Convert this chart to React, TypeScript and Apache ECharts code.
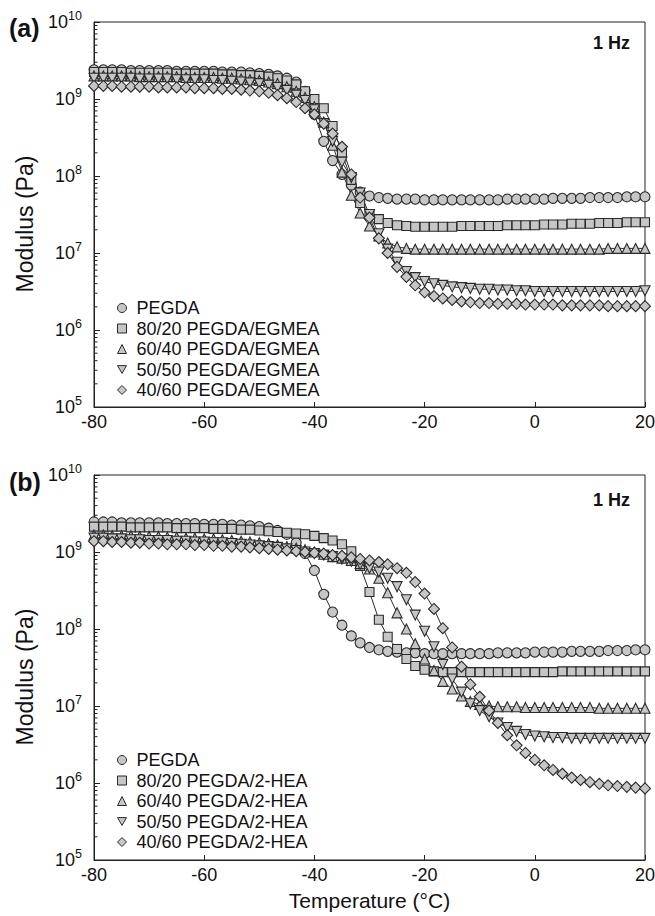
import React, { useEffect, useRef } from "react";
import * as echarts from "echarts";

// Temperatures (°C) of the measured points
const temps = [
  -80, -78.3, -76.7, -75, -73.3, -71.7, -70, -68.3, -66.7, -65, -63.3, -61.7, -60,
  -58.3, -56.7, -55, -53.3, -51.7, -50, -48.3, -46.7, -45, -43.3, -41.7, -40,
  -38.3, -36.7, -35, -33.3, -31.7, -30, -28.3, -26.7, -25, -23.3, -21.7, -20,
  -18.3, -16.7, -15, -13.3, -11.7, -10, -8.3, -6.7, -5, -3.3, -1.7, 0,
  1.7, 3.3, 5, 6.7, 8.3, 10, 11.7, 13.3, 15, 16.7, 18.3, 20,
];

// Panel (a): log10 of modulus (Pa)
const pegdaA = [
  9.38, 9.38, 9.38, 9.38, 9.37, 9.37, 9.37, 9.37, 9.37, 9.36, 9.36, 9.36, 9.36,
  9.36, 9.35, 9.35, 9.35, 9.34, 9.33, 9.32, 9.3, 9.27, 9.22, 9.1, 8.8,
  8.45, 8.2, 8.02, 7.88, 7.79, 7.74, 7.72, 7.71, 7.7, 7.7, 7.7, 7.69,
  7.69, 7.69, 7.69, 7.69, 7.69, 7.69, 7.69, 7.69, 7.7, 7.7, 7.7, 7.7,
  7.7, 7.71, 7.71, 7.71, 7.71, 7.72, 7.72, 7.72, 7.72, 7.73, 7.73, 7.73,
];
const egmea80A = [
  9.35, 9.35, 9.35, 9.35, 9.34, 9.34, 9.34, 9.34, 9.34, 9.33, 9.33, 9.33, 9.33,
  9.33, 9.32, 9.32, 9.31, 9.31, 9.3, 9.29, 9.27, 9.24, 9.19, 9.1, 9.0,
  8.88, 8.65, 8.3, 7.95, 7.65, 7.5, 7.44, 7.39, 7.36, 7.35, 7.34, 7.34,
  7.34, 7.34, 7.34, 7.35, 7.35, 7.35, 7.35, 7.35, 7.36, 7.36, 7.36, 7.36,
  7.37, 7.37, 7.37, 7.38, 7.38, 7.38, 7.39, 7.39, 7.39, 7.4, 7.4, 7.4,
];
const egmea60A = [
  9.3, 9.3, 9.3, 9.3, 9.3, 9.29, 9.29, 9.29, 9.29, 9.29, 9.28, 9.28, 9.28,
  9.28, 9.27, 9.27, 9.26, 9.25, 9.24, 9.22, 9.2, 9.16, 9.1, 9.02, 8.9,
  8.7, 8.4, 8.05, 7.75, 7.52, 7.35, 7.22, 7.13, 7.08, 7.06, 7.05, 7.05,
  7.05, 7.05, 7.05, 7.05, 7.05, 7.05, 7.05, 7.05, 7.05, 7.05, 7.05, 7.05,
  7.05, 7.05, 7.05, 7.05, 7.05, 7.05, 7.05, 7.06, 7.06, 7.06, 7.06, 7.06,
];
const egmea50A = [
  9.27, 9.27, 9.27, 9.27, 9.27, 9.26, 9.26, 9.26, 9.26, 9.25, 9.25, 9.25, 9.25,
  9.24, 9.24, 9.23, 9.22, 9.21, 9.2, 9.18, 9.15, 9.11, 9.05, 8.98, 8.86,
  8.68, 8.45, 8.18, 7.98, 7.78, 7.5, 7.25, 7.05, 6.88, 6.76, 6.68, 6.63,
  6.6, 6.58, 6.56, 6.55, 6.54, 6.53, 6.53, 6.52, 6.52, 6.51, 6.51, 6.5,
  6.5, 6.5, 6.5, 6.5, 6.5, 6.5, 6.5, 6.5, 6.5, 6.5, 6.5, 6.51,
];
const egmea40A = [
  9.17, 9.17, 9.17, 9.16, 9.16, 9.16, 9.16, 9.15, 9.15, 9.15, 9.15, 9.14, 9.14,
  9.14, 9.13, 9.13, 9.12, 9.11, 9.1, 9.08, 9.05, 9.01, 8.96, 8.88, 8.8,
  8.68, 8.55, 8.38, 8.02, 7.72, 7.46, 7.19, 7.0, 6.82, 6.69, 6.58, 6.49,
  6.44, 6.41, 6.39, 6.37, 6.36, 6.35, 6.35, 6.34, 6.34, 6.34, 6.33, 6.33,
  6.33, 6.33, 6.32, 6.32, 6.32, 6.32, 6.32, 6.31, 6.31, 6.31, 6.31, 6.31,
];

// Panel (b): log10 of modulus (Pa)
const pegdaB = [
  9.39, 9.39, 9.39, 9.38, 9.38, 9.38, 9.38, 9.38, 9.37, 9.37, 9.37, 9.37, 9.36,
  9.36, 9.36, 9.35, 9.35, 9.34, 9.33, 9.31, 9.28, 9.23, 9.12, 8.98, 8.76,
  8.45, 8.22, 8.05, 7.91, 7.82, 7.76, 7.73, 7.71, 7.7, 7.69, 7.69, 7.68,
  7.68, 7.68, 7.68, 7.68, 7.68, 7.68, 7.68, 7.69, 7.69, 7.69, 7.69, 7.7,
  7.7, 7.7, 7.7, 7.71, 7.71, 7.71, 7.71, 7.72, 7.72, 7.72, 7.73, 7.73,
];
const hea80B = [
  9.33, 9.33, 9.33, 9.33, 9.32, 9.32, 9.32, 9.32, 9.32, 9.31, 9.31, 9.31, 9.31,
  9.3, 9.3, 9.3, 9.29, 9.29, 9.28, 9.27, 9.26, 9.25, 9.24, 9.23, 9.21,
  9.18, 9.15, 9.1, 9.01, 8.82, 8.48, 8.12, 7.9, 7.74, 7.61, 7.52, 7.47,
  7.45, 7.44, 7.44, 7.44, 7.44, 7.44, 7.44, 7.44, 7.44, 7.44, 7.44, 7.44,
  7.44, 7.44, 7.45, 7.45, 7.45, 7.45, 7.45, 7.45, 7.45, 7.45, 7.45, 7.45,
];
const hea60B = [
  9.22, 9.22, 9.21, 9.21, 9.21, 9.2, 9.2, 9.2, 9.19, 9.19, 9.18, 9.18, 9.17,
  9.17, 9.16, 9.15, 9.14, 9.13, 9.12, 9.11, 9.09, 9.07, 9.05, 9.03, 9.0,
  8.97, 8.94, 8.92, 8.89, 8.85, 8.78, 8.66, 8.47, 8.21, 8.0, 7.81, 7.61,
  7.46, 7.32, 7.22, 7.13, 7.06, 7.02, 7.0, 6.99, 6.99, 6.99, 6.98, 6.98,
  6.98, 6.98, 6.98, 6.98, 6.98, 6.98, 6.97, 6.97, 6.97, 6.97, 6.97, 6.97,
];
const hea50B = [
  9.18, 9.18, 9.17, 9.17, 9.16, 9.16, 9.15, 9.15, 9.15, 9.14, 9.14, 9.13, 9.13,
  9.12, 9.12, 9.11, 9.1, 9.09, 9.08, 9.07, 9.06, 9.04, 9.02, 9.0, 8.98,
  8.96, 8.94, 8.91, 8.88, 8.84, 8.79, 8.74, 8.66, 8.55, 8.38, 8.18, 7.97,
  7.77, 7.54, 7.35, 7.18, 7.03, 6.94, 6.86, 6.78, 6.72, 6.67, 6.63, 6.61,
  6.6, 6.59, 6.59, 6.58, 6.58, 6.58, 6.58, 6.58, 6.58, 6.58, 6.58, 6.58,
];
const hea40B = [
  9.14, 9.14, 9.13, 9.13, 9.12, 9.12, 9.11, 9.11, 9.1, 9.1, 9.1, 9.09, 9.09,
  9.08, 9.08, 9.07, 9.07, 9.06, 9.05, 9.04, 9.03, 9.02, 9.01, 9.0, 8.99,
  8.98, 8.96, 8.95, 8.93, 8.91, 8.89, 8.87, 8.84, 8.79, 8.73, 8.61, 8.46,
  8.26, 8.01, 7.76, 7.51, 7.28, 7.12, 6.94, 6.78, 6.62, 6.49, 6.39, 6.3,
  6.23, 6.17, 6.12, 6.07, 6.04, 6.01, 5.99, 5.97, 5.96, 5.95, 5.94, 5.93,
];

const namesA = [
  "PEGDA",
  "80/20 PEGDA/EGMEA",
  "60/40 PEGDA/EGMEA",
  "50/50 PEGDA/EGMEA",
  "40/60 PEGDA/EGMEA",
];
const namesB = [
  "PEGDA",
  "80/20 PEGDA/2-HEA",
  "60/40 PEGDA/2-HEA",
  "50/50 PEGDA/2-HEA",
  "40/60 PEGDA/2-HEA",
];
const seriesA = [pegdaA, egmea80A, egmea60A, egmea50A, egmea40A];
const seriesB = [pegdaB, hea80B, hea60B, hea50B, hea40B];

const xTicks = { min: -80, max: 20, interval: 20 };
const yRange = { min: 1e5, max: 1e10 };
const minorDecades = [5, 6, 7, 8, 9];
const minorMultipliers = [2, 3, 4, 5, 6, 7, 8, 9];

const FONT = "'Liberation Sans', Arial, Helvetica, sans-serif";
const INK = "#111";
const FILL = "#c6c6c6";
const EDGE = "#2a2a2a";
const DOWN_TRI = "path://M0,0L20,0L10,17.3Z";
const symbols = ["circle", "rect", "triangle", DOWN_TRI, "diamond"];
const symbolSizes = [10, 9, 10, 10, 11];

export default function App() {
  const ref = useRef<HTMLDivElement>(null);

  useEffect(() => {
    if (!ref.current) return;
    const chart = echarts.init(ref.current, null, { renderer: "svg" });

    const minorVals: number[][] = [];
    minorDecades.forEach((d) =>
      minorMultipliers.forEach((m) => minorVals.push([-80, m * Math.pow(10, d)]))
    );

    const grids = [
      { left: 94, top: 22, width: 551, height: 385 },
      { left: 94, top: 475, width: 551, height: 385 },
    ].map((g) => ({
      ...g,
      show: true,
      borderColor: "#222",
      borderWidth: 1,
      backgroundColor: "transparent",
      outerBoundsMode: "none",
    }));

    const xAxes = [0, 1].map((i) => ({
      type: "value",
      gridIndex: i,
      min: xTicks.min,
      max: xTicks.max,
      interval: xTicks.interval,
      axisLine: { show: true, onZero: false, lineStyle: { color: "#222", width: 1 } },
      axisTick: { show: true, inside: true, length: 5, lineStyle: { color: "#222" } },
      axisLabel: { fontSize: 18, color: INK, fontFamily: FONT, margin: 6 },
      splitLine: { show: false },
    }));

    const yAxes = [0, 1].map((i) => ({
      type: "log",
      logBase: 10,
      gridIndex: i,
      min: yRange.min,
      max: yRange.max,
      splitNumber: 5,
      axisLine: { show: true, onZero: false, lineStyle: { color: "#222", width: 1 } },
      axisTick: { show: true, inside: true, length: 6, lineStyle: { color: "#222" } },
      splitLine: { show: false },
      axisLabel: {
        margin: 12,
        formatter: (v: number) => {
          const e = Math.round(Math.log10(v));
          return "{b|10}{s|" + e + "}";
        },
        rich: {
          b: { fontSize: 18, lineHeight: 26, color: INK, fontFamily: FONT },
          s: { fontSize: 12.5, lineHeight: 12, verticalAlign: "top", color: INK, fontFamily: FONT },
        },
      },
    }));

    const lineSeries: any[] = [];
    [seriesA, seriesB].forEach((group, gi) => {
      const names = gi === 0 ? namesA : namesB;
      group.forEach((vals, si) => {
        lineSeries.push({
          type: "line",
          name: names[si],
          xAxisIndex: gi,
          yAxisIndex: gi,
          data: temps.map((t, k) => [t, Math.pow(10, vals[k])]),
          symbol: symbols[si],
          symbolSize: symbolSizes[si],
          showSymbol: true,
          showAllSymbol: true,
          clip: false,
          lineStyle: { color: "#2a2a2a", width: 1 },
          itemStyle: { color: FILL, borderColor: EDGE, borderWidth: 1.1 },
          emphasis: { disabled: true },
        });
      });
    });

    const minorSeries = [0, 1].map((gi) => ({
      type: "custom",
      xAxisIndex: gi,
      yAxisIndex: gi,
      silent: true,
      clip: false,
      encode: { x: 0, y: 1 },
      data: minorVals,
      renderItem: (_p: any, api: any) => {
        const pt = api.coord([api.value(0), api.value(1)]);
        return {
          type: "line",
          shape: { x1: pt[0], y1: pt[1], x2: pt[0] + 3.5, y2: pt[1] },
          style: { stroke: "#222", lineWidth: 1 },
        };
      },
    }));

    const legendBase = {
      orient: "vertical",
      left: 112,
      itemWidth: 9,
      itemHeight: 9,
      itemGap: 0.5,
      selectedMode: false,
      itemStyle: { color: FILL, borderColor: EDGE, borderWidth: 1 },
      textStyle: { fontSize: 18, color: INK, fontFamily: FONT, lineHeight: 20, padding: [0, 0, 0, 5] },
    };
    const legends = [
      { ...legendBase, top: 293, data: namesA.map((n, i) => ({ name: n, icon: symbols[i] })) },
      { ...legendBase, top: 745, data: namesB.map((n, i) => ({ name: n, icon: symbols[i] })) },
    ];

    const txt = (text: string, x: number, y: number, size: number, bold: boolean, align = "left", rotation = 0) => ({
      type: "text",
      x,
      y,
      rotation,
      silent: true,
      style: {
        text,
        fontSize: size,
        fontWeight: bold ? "bold" : "normal",
        fontFamily: FONT,
        fill: INK,
        align,
        verticalAlign: "middle",
      },
    });

    chart.setOption({
      animation: false,
      grid: grids,
      xAxis: xAxes,
      yAxis: yAxes,
      legend: legends,
      series: [...minorSeries, ...lineSeries],
      graphic: [
        txt("(a)", 9, 28, 25, true),
        txt("(b)", 9, 482, 25, true),
        txt("1 Hz", 630, 43, 18, true, "right"),
        txt("1 Hz", 630, 500, 18, true, "right"),
        txt("Modulus (Pa)", 25, 224, 23, false, "center", Math.PI / 2),
        txt("Modulus (Pa)", 25, 677, 23, false, "center", Math.PI / 2),
        txt("Temperature (°C)", 369.5, 900, 21, false, "center"),
      ],
    });

    return () => chart.dispose();
  }, []);

  return (
    <div
      ref={ref}
      style={{ position: "fixed", left: 0, top: 0, width: 655, height: 916, background: "#fff" }}
    />
  );
}
